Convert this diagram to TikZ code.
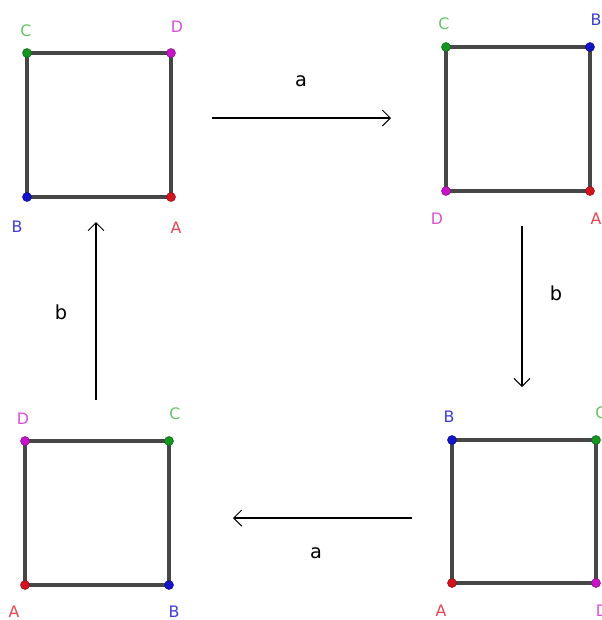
\documentclass[tikz,border=0pt]{standalone}
\usepackage{fontspec}
\setmainfont{DejaVu Sans}
\definecolor{ptred}{RGB}{210,20,30}
\definecolor{ptblue}{RGB}{20,20,200}
\definecolor{ptgreen}{RGB}{20,150,30}
\definecolor{ptmagenta}{RGB}{200,20,200}
\definecolor{lblred}{RGB}{230,70,80}
\definecolor{lblblue}{RGB}{60,60,210}
\definecolor{lblgreen}{RGB}{100,195,100}
\definecolor{lblmagenta}{RGB}{215,80,215}
\definecolor{sidegray}{RGB}{70,70,70}
\usetikzlibrary{arrows.meta}

\tikzset{
  pt/.style={circle, inner sep=0pt, minimum size=1.8mm, fill=#1, draw=#1!70!black, line width=0.3pt},
  side/.style={draw=sidegray, line width=1.9pt},
  vlbl/.style={font=\fontsize{9}{11}\selectfont, text=#1},
  move/.style={line width=0.6pt, -{Straight Barb[length=1.6mm,width=3.2mm]}},
  movelbl/.style={font=\fontsize{11}{13}\selectfont}
}

\begin{document}
\begin{tikzpicture}[x=0.02cm, y=-0.02cm]
  \useasboundingbox (0,0) rectangle (602,620);

  % top left square
  \draw[side] (27,53) rectangle (171,197);
  \node[pt=ptgreen] (c1) at (27,53) {};
  \node[pt=ptmagenta] (d1) at (171,53) {};
  \node[pt=ptblue] (b1) at (27,197) {};
  \node[pt=ptred] (a1) at (171,197) {};
  \node[vlbl=lblgreen] (lc1) at (26,31) {C};
  \node[vlbl=lblmagenta] (ld1) at (177,27) {D};
  \node[vlbl=lblblue] (lb1) at (17,227) {B};
  \node[vlbl=lblred] (la1) at (176,228) {A};

  % top right square
  \draw[side] (446,47) rectangle (590,191);
  \node[pt=ptgreen] (c2) at (446,47) {};
  \node[pt=ptblue] (b2) at (590,47) {};
  \node[pt=ptmagenta] (d2) at (446,191) {};
  \node[pt=ptred] (a2) at (590,191) {};
  \node[vlbl=lblgreen] (lc2) at (444,24) {C};
  \node[vlbl=lblblue] (lb2) at (596,20) {B};
  \node[vlbl=lblmagenta] (ld2) at (437,219) {D};
  \node[vlbl=lblred] (la2) at (596,219) {A};

  % bottom right square
  \draw[side] (452,440) rectangle (596,583);
  \node[pt=ptblue] (b3) at (452,440) {};
  \node[pt=ptgreen] (c3) at (596,440) {};
  \node[pt=ptred] (a3) at (452,583) {};
  \node[pt=ptmagenta] (d3) at (596,583) {};
  \node[vlbl=lblblue] (lb3) at (449,417) {B};
  \node[vlbl=lblgreen] (lc3) at (601,413) {C};
  \node[vlbl=lblred] (la3) at (441,611) {A};
  \node[vlbl=lblmagenta] (ld3) at (602,611) {D};

  % bottom left square
  \draw[side] (25,441) rectangle (169,585);
  \node[pt=ptmagenta] (d4) at (25,441) {};
  \node[pt=ptgreen] (c4) at (169,441) {};
  \node[pt=ptred] (a4) at (25,585) {};
  \node[pt=ptblue] (b4) at (169,585) {};
  \node[vlbl=lblmagenta] (ld4) at (23,419) {D};
  \node[vlbl=lblgreen] (lc4) at (175,414) {C};
  \node[vlbl=lblred] (la4) at (14,612) {A};
  \node[vlbl=lblblue] (lb4) at (174,612) {B};

  % moves
  \coordinate (m1s) at (212,118);
  \coordinate (m1e) at (391,118);
  \draw[move] (m1s) -- (m1e);
  \node[movelbl] (m1l) at (301,81) {a};

  \coordinate (m2s) at (522,226);
  \coordinate (m2e) at (522,387);
  \draw[move] (m2s) -- (m2e);
  \node[movelbl] (m2l) at (556,293) {b};

  \coordinate (m3s) at (412,518);
  \coordinate (m3e) at (233,518);
  \draw[move] (m3s) -- (m3e);
  \node[movelbl] (m3l) at (316,553) {a};

  \coordinate (m4s) at (96,400);
  \coordinate (m4e) at (96,222);
  \draw[move] (m4s) -- (m4e);
  \node[movelbl] (m4l) at (61,312) {b};
\end{tikzpicture}
\end{document}
